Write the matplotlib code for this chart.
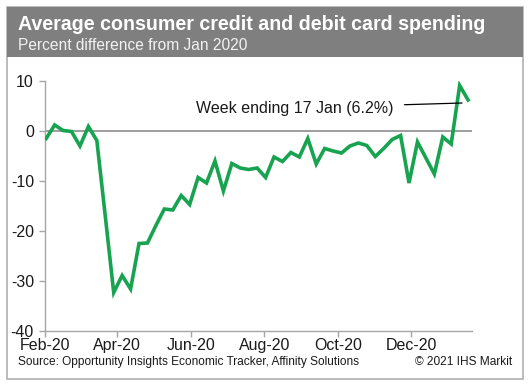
import numpy as np
import pandas as pd
import matplotlib
matplotlib.use("Agg")
import matplotlib.pyplot as plt
import matplotlib.dates as mdates
from matplotlib.patches import Rectangle

plt.rcParams['font.family'] = ['Liberation Sans', 'DejaVu Sans']
plt.rcParams['axes.unicode_minus'] = False

# weekly spending, percent difference from Jan 2020 (weeks ending Sunday)
week_end = pd.date_range("2020-02-02", periods=51, freq="7D")
spending = [-1.5, 1.2, 0.1, -0.1, -3.0, 0.9, -1.9, -17.0, -32.3, -28.9,
            -31.6, -22.5, -22.4, -18.9, -15.6, -15.8, -12.9, -14.7, -9.3, -10.4,
            -6.0, -12.0, -6.5, -7.4, -7.7, -7.4, -9.3, -5.2, -6.1, -4.3,
            -5.2, -1.5, -6.6, -3.5, -4.0, -4.4, -3.0, -2.4, -2.9, -5.1,
            -3.5, -1.7, -0.9, -10.4, -2.2, -5.4, -8.6, -1.2, -2.6, 9.1,
            6.2]
month_ticks = pd.to_datetime(["2020-02-01", "2020-04-01", "2020-06-01",
                              "2020-08-01", "2020-10-01", "2020-12-01"])
y_ticks = [10, 0, -10, -20, -30, -40]

W, H = 531, 385
fig = plt.figure(figsize=(W / 100, H / 100), dpi=100)

# frame and grey header
fig.patches.append(Rectangle((7 / W, 1 - 379 / H), 516 / W, 372 / H,
                             transform=fig.transFigure, facecolor="white",
                             edgecolor="#b0b0b0", linewidth=1.2, zorder=0))
fig.patches.append(Rectangle((7 / W, 1 - 57 / H), 516 / W, 50 / H,
                             transform=fig.transFigure, facecolor="#7f7f7f",
                             edgecolor="none", zorder=1))
fig.text(18 / W, 1 - 25 / H, "Average consumer credit and debit card spending",
         color="white", fontsize=14.1, fontweight="bold", va="center", ha="left")
fig.text(18 / W, 1 - 45.5 / H, "Percent difference from Jan 2020",
         color="#f2f2f2", fontsize=11.2, va="center", ha="left")

ax = fig.add_axes([45 / W, 1 - 331 / H, 426.7 / W, 250 / H])
ax.set_zorder(5)
ax.patch.set_alpha(0)

ax.axhline(0, color="#8c8c8c", linewidth=1.2, zorder=1)
ax.plot(week_end, spending, color="#17a34f", linewidth=2.6, zorder=3,
        solid_joinstyle="miter")

ax.set_ylim(-40, 10)
ax.set_xlim(pd.Timestamp("2020-02-01"), pd.Timestamp("2021-01-20"))
ax.set_yticks(y_ticks)
ax.set_xticks(month_ticks)
ax.xaxis.set_major_formatter(mdates.DateFormatter("%b-%y"))

for s in ["top", "right"]:
    ax.spines[s].set_visible(False)
for s in ["left", "bottom"]:
    ax.spines[s].set_color("#a6a6a6")
    ax.spines[s].set_linewidth(1.0)
ax.tick_params(axis="both", colors="#a6a6a6", labelcolor="#1a1a1a",
               labelsize=11.5, length=4, width=1.0)
ax.tick_params(axis="x", pad=1)
ax.tick_params(axis="y", pad=4)

ax.annotate("Week ending 17 Jan (6.2%)",
            xy=(pd.Timestamp("2021-01-12"), 5.6),
            xytext=(pd.Timestamp("2020-11-16"), 4.6),
            fontsize=11.5, color="#1a1a1a", ha="right", va="center",
            arrowprops=dict(arrowstyle="-", color="black", linewidth=0.9,
                            shrinkA=6, shrinkB=0))

fig.text(18 / W, 1 - 362 / H,
         "Source: Opportunity Insights Economic Tracker, Affinity Solutions",
         fontsize=8.6, color="#1a1a1a", va="center", ha="left")
fig.text(512 / W, 1 - 362 / H, "\u00a9 2021 IHS Markit",
         fontsize=8.6, color="#1a1a1a", va="center", ha="right")

fig.savefig("out.png", dpi=100)
